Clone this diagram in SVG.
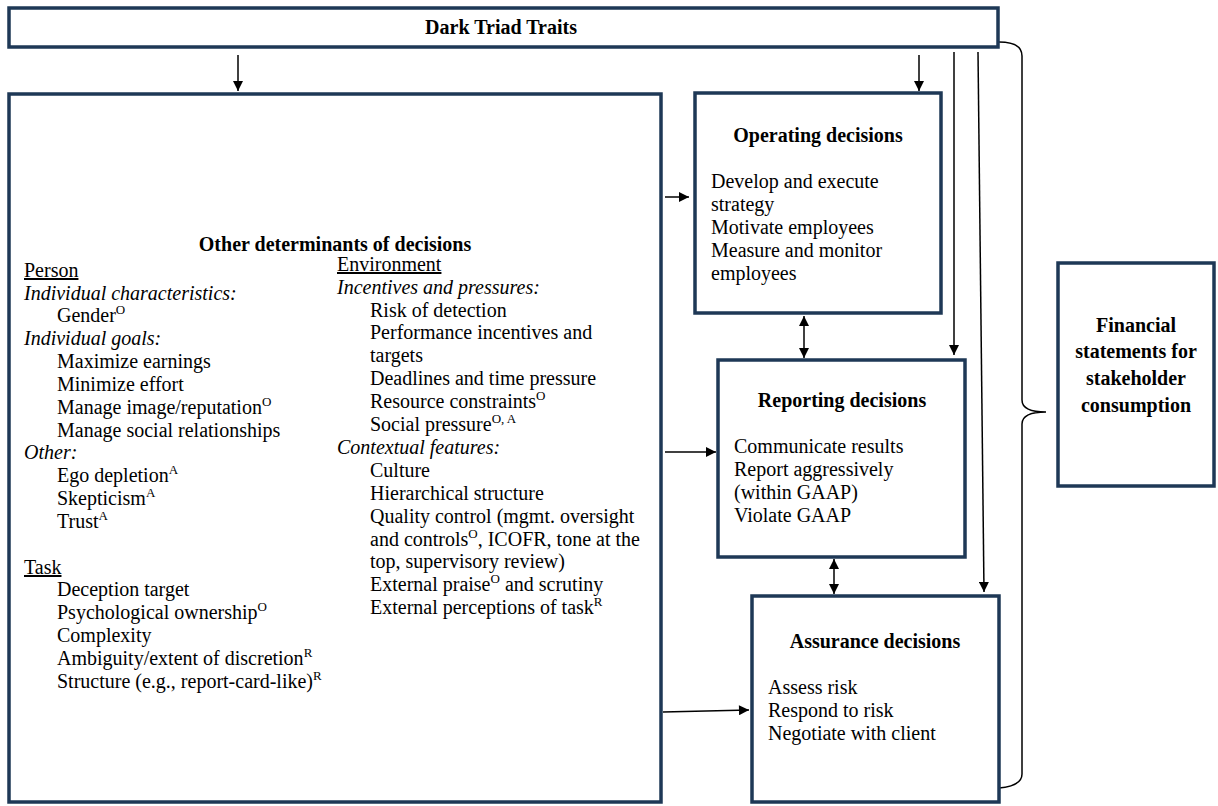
<svg xmlns="http://www.w3.org/2000/svg" width="1218" height="806" viewBox="0 0 1218 806">
<defs>
<marker id="ah" viewBox="0 0 10 10" refX="10" refY="5" markerWidth="11" markerHeight="10" markerUnits="userSpaceOnUse" orient="auto-start-reverse">
<path d="M0,0 L10,5 L0,10 z" fill="#000"/>
</marker>
<style>
.box{fill:#fff;stroke:#1e3856;stroke-width:3.5}
.t{font-family:"Liberation Serif","Times New Roman",serif;font-size:20px;fill:#000}
.b{font-weight:bold}
.i{font-style:italic}
.u{text-decoration:underline}
.c{text-anchor:middle}
.con{stroke:#000;stroke-width:1.5;fill:none}
.sup{font-size:13px}
</style>
</defs>
<rect width="1218" height="806" fill="#fff"/>

<g id="connectors">
<line class="con" x1="238" y1="55" x2="238" y2="91" marker-end="url(#ah)"/>
<line class="con" x1="919" y1="55" x2="919" y2="91" marker-end="url(#ah)"/>
<line class="con" x1="954" y1="52" x2="954" y2="355" marker-end="url(#ah)"/>
<line class="con" x1="978" y1="52" x2="984" y2="592" marker-end="url(#ah)"/>
<line class="con" x1="665" y1="197" x2="689" y2="197" marker-end="url(#ah)"/>
<line class="con" x1="665" y1="452" x2="716" y2="452" marker-end="url(#ah)"/>
<line class="con" x1="663" y1="712" x2="749" y2="710" marker-end="url(#ah)"/>
<line class="con" x1="804" y1="316" x2="804" y2="358" marker-start="url(#ah)" marker-end="url(#ah)"/>
<line class="con" x1="834" y1="559" x2="834" y2="594" marker-start="url(#ah)" marker-end="url(#ah)"/>
<path class="con" d="M999,42 Q1022,42 1022,56 L1022,400 Q1022,412 1046,412 Q1022,412 1022,424 L1022,774 Q1022,786 999,788"/>
</g>

<g id="dark-triad">
<rect class="box" x="9" y="8" width="989" height="39"/>
<text class="t b c" x="501" y="34">Dark Triad Traits</text>
</g>

<g id="other-determinants">
<rect class="box" x="9" y="94" width="652" height="708"/>
<text class="t b c" x="335" y="251">Other determinants of decisions</text>
<text class="t u" x="24" y="277">Person</text>
<text class="t i" x="24" y="300">Individual characteristics:</text>
<text class="t" x="57" y="322">Gender<tspan class="sup" dy="-8">O</tspan></text>
<text class="t i" x="24" y="345">Individual goals:</text>
<text class="t" x="57" y="368">Maximize earnings</text>
<text class="t" x="57" y="391">Minimize effort</text>
<text class="t" x="57" y="414">Manage image/reputation<tspan class="sup" dy="-8">O</tspan></text>
<text class="t" x="57" y="437">Manage social relationships</text>
<text class="t i" x="24" y="459">Other:</text>
<text class="t" x="57" y="482">Ego depletion<tspan class="sup" dy="-8">A</tspan></text>
<text class="t" x="57" y="505">Skepticism<tspan class="sup" dy="-8">A</tspan></text>
<text class="t" x="57" y="528">Trust<tspan class="sup" dy="-8">A</tspan></text>
<text class="t u" x="24" y="574">Task</text>
<text class="t" x="57" y="596">Deception target</text>
<text class="t" x="57" y="619">Psychological ownership<tspan class="sup" dy="-8">O</tspan></text>
<text class="t" x="57" y="642">Complexity</text>
<text class="t" x="57" y="665">Ambiguity/extent of discretion<tspan class="sup" dy="-8">R</tspan></text>
<text class="t" x="57" y="688">Structure (e.g., report-card-like)<tspan class="sup" dy="-8">R</tspan></text>

<text class="t u" x="337" y="271">Environment</text>
<text class="t i" x="337" y="294">Incentives and pressures:</text>
<text class="t" x="370" y="317">Risk of detection</text>
<text class="t" x="370" y="339">Performance incentives and</text>
<text class="t" x="370" y="362">targets</text>
<text class="t" x="370" y="385">Deadlines and time pressure</text>
<text class="t" x="370" y="408">Resource constraints<tspan class="sup" dy="-8">O</tspan></text>
<text class="t" x="370" y="431">Social pressure<tspan class="sup" dy="-8">O, A</tspan></text>
<text class="t i" x="337" y="454">Contextual features:</text>
<text class="t" x="370" y="477">Culture</text>
<text class="t" x="370" y="500">Hierarchical structure</text>
<text class="t" x="370" y="523">Quality control (mgmt. oversight</text>
<text class="t" x="370" y="546">and controls<tspan class="sup" dy="-8">O</tspan><tspan dy="8">, ICOFR, tone at the</tspan></text>
<text class="t" x="370" y="568">top, supervisory review)</text>
<text class="t" x="370" y="591">External praise<tspan class="sup" dy="-8">O</tspan><tspan dy="8"> and scrutiny</tspan></text>
<text class="t" x="370" y="614">External perceptions of task<tspan class="sup" dy="-8">R</tspan></text>
</g>

<g id="operating">
<rect class="box" x="695" y="93" width="246" height="220"/>
<text class="t b c" x="818" y="142">Operating decisions</text>
<text class="t" x="711" y="188">Develop and execute</text>
<text class="t" x="711" y="211">strategy</text>
<text class="t" x="711" y="234">Motivate employees</text>
<text class="t" x="711" y="257">Measure and monitor</text>
<text class="t" x="711" y="280">employees</text>
</g>

<g id="reporting">
<rect class="box" x="718" y="360" width="247" height="197"/>
<text class="t b c" x="842" y="407">Reporting decisions</text>
<text class="t" x="734" y="453">Communicate results</text>
<text class="t" x="734" y="476">Report aggressively</text>
<text class="t" x="734" y="499">(within GAAP)</text>
<text class="t" x="734" y="522">Violate GAAP</text>
</g>

<g id="assurance">
<rect class="box" x="752" y="596" width="247" height="206"/>
<text class="t b c" x="875" y="648">Assurance decisions</text>
<text class="t" x="768" y="694">Assess risk</text>
<text class="t" x="768" y="717">Respond to risk</text>
<text class="t" x="768" y="740">Negotiate with client</text>
</g>

<g id="financial-statements">
<rect class="box" x="1058" y="263" width="156" height="223"/>
<text class="t b c" x="1136" y="332">Financial</text>
<text class="t b c" x="1136" y="358">statements for</text>
<text class="t b c" x="1136" y="385">stakeholder</text>
<text class="t b c" x="1136" y="412">consumption</text>
</g>
</svg>
